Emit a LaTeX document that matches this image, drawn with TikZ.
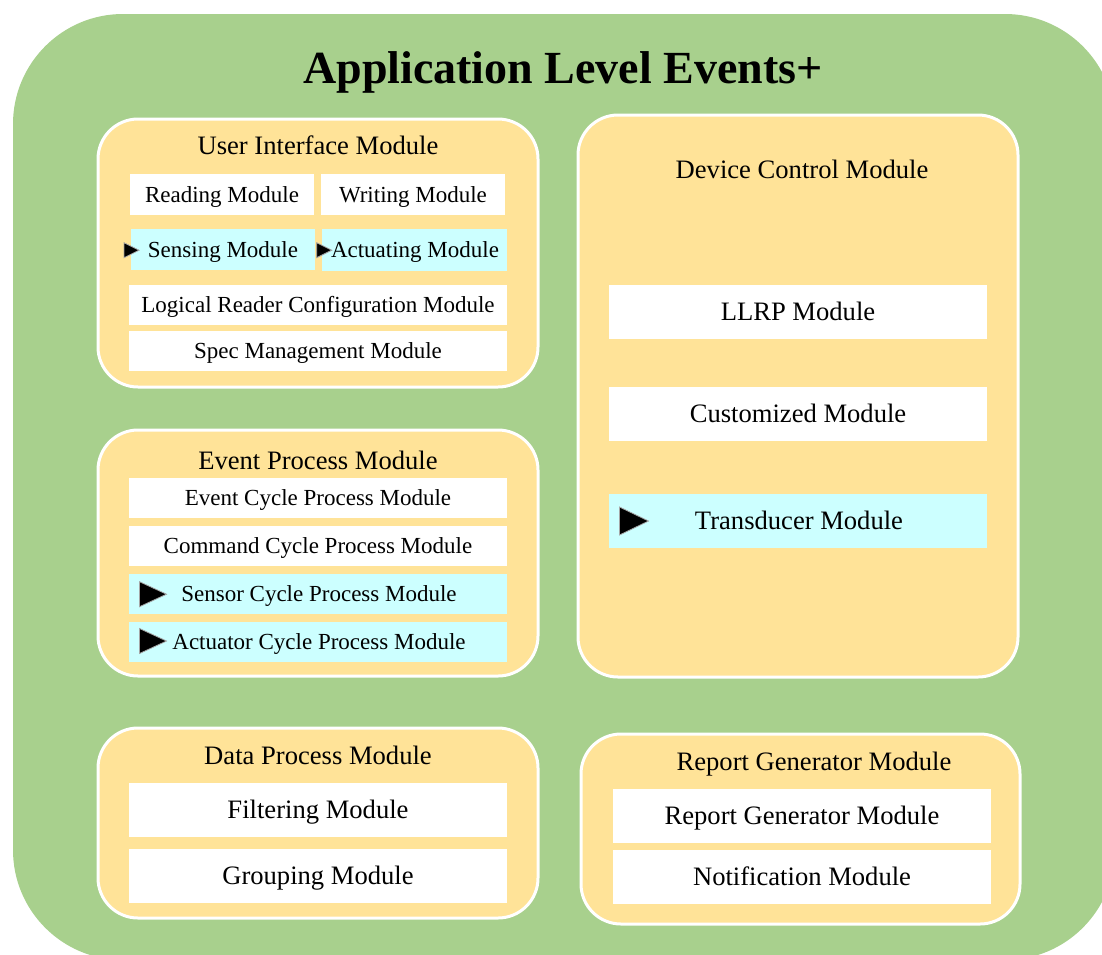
\documentclass[tikz,border=0pt]{standalone}
\usepackage{fontspec}
\setmainfont{Liberation Serif}
\definecolor{groundgreen}{HTML}{A8D08D}
\definecolor{modorange}{HTML}{FFE398}
\definecolor{modcyan}{HTML}{CCFFFF}
\tikzset{
  container/.style={fill=modorange, draw=white, line width=3pt, rounded corners=40pt, inner sep=0pt},
  txt/.style={inner sep=0pt, text depth=0pt},
  heading/.style={txt, text height=17.6pt, font=\fontsize{26.6}{30}\selectfont},
  subbox/.style={txt, text height=15.2pt, fill=white, font=\fontsize{23}{27}\selectfont},
  bigbox/.style={txt, text height=17.6pt, fill=white, font=\fontsize{26.6}{30}\selectfont},
  newbox/.style={fill=modcyan},
  marker/.style={fill=black, draw=gray!70, line width=0.8pt, line join=miter}
}
\newcommand{\marktri}[4]{% left x, top y, width, height
  \path[marker] (#1,#2) -- (#1+#3,#2+#4/2) -- (#1,#2+#4) -- cycle;}
\begin{document}
\begin{tikzpicture}[x=1pt,y=-1pt]
\useasboundingbox (0,0) rectangle (1102,954);
\clip (0,0) rectangle (1102,954);

% background frame
\fill[groundgreen, rounded corners=110pt] (13,14) rectangle (1115,960);
\node[txt, text height=30.4pt, font=\bfseries\fontsize{46}{50}\selectfont] (title) at (563,68) {Application Level Events+};

% containers
\node[container, minimum width=440pt, minimum height=268pt] (ui) at (318,253) {};
\node[container, minimum width=440pt, minimum height=246pt] (ep) at (318,553) {};
\node[container, minimum width=440pt, minimum height=190pt] (dp) at (318,823) {};
\node[container, minimum width=440pt, minimum height=562pt] (dc) at (798,396) {};
\node[container, minimum width=439pt, minimum height=190pt] (rg) at (800.5,829) {};

% headings
\node[heading] (uiT) at (318,146) {User Interface Module};
\node[heading] (epT) at (318,461) {Event Process Module};
\node[heading] (dpT) at (318,756) {Data Process Module};
\node[heading] (dcT) at (802,170) {Device Control Module};
\node[heading] (rgT) at (814,762) {Report Generator Module};

% user interface module
\node[subbox, minimum width=184pt, minimum height=41pt] (read) at (222,194.5) {Reading Module};
\node[subbox, minimum width=184pt, minimum height=41pt] (write) at (413,194.5) {Writing Module};
\node[subbox, newbox, minimum width=184pt, minimum height=41pt] (sense) at (223,249.5) {};
\node[subbox, newbox, minimum width=185pt, minimum height=42pt] (act) at (414.5,250) {};
\node[subbox, fill=none] (senseT) at (223,250) {Sensing Module};
\node[subbox, fill=none] (actT) at (415,250) {Actuating Module};
\node[subbox, minimum width=378pt, minimum height=40pt] (lrc) at (318,305) {Logical Reader Configuration Module};
\node[subbox, minimum width=378pt, minimum height=40pt] (spec) at (318,351) {Spec Management Module};
\marktri{124}{242.7}{15}{15}
\marktri{316.7}{242.7}{15}{15}

% event process module
\node[subbox, minimum width=378pt, minimum height=40pt] (ecp) at (318,498) {Event Cycle Process Module};
\node[subbox, minimum width=378pt, minimum height=40pt] (ccp) at (318,546) {Command Cycle Process Module};
\node[subbox, newbox, minimum width=378pt, minimum height=40pt] (scp) at (318,594) {};
\node[subbox, newbox, minimum width=378pt, minimum height=40pt] (acp) at (318,642) {};
\node[subbox, fill=none] (scpT) at (319,594) {Sensor Cycle Process Module};
\node[subbox, fill=none] (acpT) at (319,642) {Actuator Cycle Process Module};
\marktri{139.5}{581.7}{27}{25}
\marktri{139.5}{628.5}{27}{25}

% data process module
\node[bigbox, minimum width=378pt, minimum height=54pt] (filt) at (318,810) {Filtering Module};
\node[bigbox, minimum width=378pt, minimum height=54pt] (grp) at (318,876) {Grouping Module};

% device control module
\node[bigbox, minimum width=378pt, minimum height=54pt] (llrp) at (798,312) {LLRP Module};
\node[bigbox, minimum width=378pt, minimum height=54pt] (cust) at (798,414) {Customized Module};
\node[bigbox, newbox, minimum width=378pt, minimum height=54pt] (trans) at (798,521) {};
\node[bigbox, fill=none] (transT) at (799,521) {Transducer Module};
\marktri{619.5}{507}{29}{28}

% report generator module
\node[bigbox, minimum width=378pt, minimum height=54pt] (rgm) at (802,816) {Report Generator Module};
\node[bigbox, minimum width=378pt, minimum height=54pt] (note) at (802,877) {Notification Module};
\end{tikzpicture}
\end{document}
